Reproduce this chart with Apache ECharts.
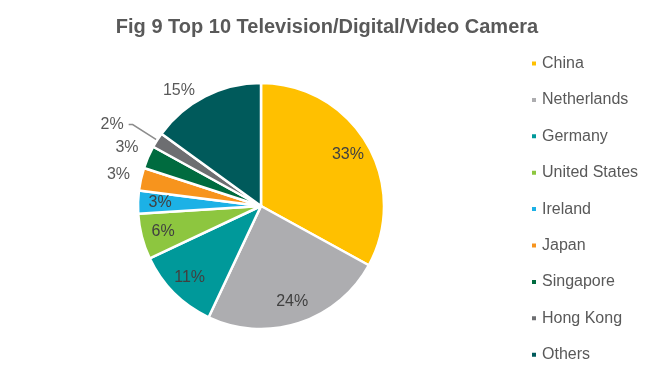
<!DOCTYPE html>
<html><head><meta charset="utf-8">
<script src="https://cdn.jsdelivr.net/npm/echarts@6/dist/echarts.min.js"></script>
<style>html,body{margin:0;padding:0;background:#fff}#c{width:656px;height:371px}</style>
</head><body><div id="c"></div>
<script>
var categories = ['China','Netherlands','Germany','United States','Ireland','Japan','Singapore','Hong Kong','Others'];
var values = [33,24,11,6,3,3,3,2,15];
var colors = ['#FFC000','#ADADB0','#00999A','#8DC63F','#1CB1E6','#F7941D','#006B3F','#6D6E71','#005A5B'];
// label placement group per category: 'in' = inner ring, 'out' = outer ring, 'line' = leader line, 'side' = beside slice
var labelMode = ['in','in','in','in','in','out','out','line','side'];

var FONT = 'Liberation Sans, Arial, sans-serif';
var CX = 261, CY = 206, R = 123;

function makeData(mode){
  return categories.map(function(c,i){
    var on = labelMode[i]===mode;
    var d = {name:c, value:values[i], label:{show:on}, labelLine:{show:on}};
    if (mode==='line' && labelMode[i]==='side') {
      d.label = {show:true};
      d.labelLine = {show:false, length:7, length2:2};
    }
    return d;
  });
}
var labelFmt = function(p){ return p.value + '%'; };
var chart = echarts.init(document.getElementById('c'));
chart.setOption({
  animation:false,
  color: colors,
  title:{text:'Fig 9 Top 10 Television/Digital/Video Camera', left:322, textAlign:'center', top:12,
    textStyle:{fontFamily:FONT, fontSize:20, fontWeight:'bold', color:'#595959'}},
  legend:{orient:'vertical', left:530, top:55.5, height:330, padding:0, icon:'rect', itemWidth:6, itemHeight:6, itemGap:20.4,
    textStyle:{fontFamily:FONT, fontSize:16, color:'#595959', lineHeight:16},
    data:categories},
  series:[
    {type:'pie', center:[CX,CY], radius:[0,R], startAngle:90, clockwise:true,
     itemStyle:{borderColor:'#fff', borderWidth:2.5}, emphasis:{disabled:true},
     label:{position:'outside', formatter:labelFmt, fontFamily:FONT, fontSize:16, color:'#595959'},
     labelLine:{length:29, length2:4, smooth:false, lineStyle:{color:'#8c8c8c', width:1.5}},
     data: makeData('line')},
    {type:'pie', center:[CX,CY], radius:[76,120], startAngle:90, silent:true, legendHoverLink:false,
     itemStyle:{color:'rgba(0,0,0,0)'}, emphasis:{disabled:true},
     label:{position:'inside', formatter:labelFmt, fontFamily:FONT, fontSize:16, color:'#404040'},
     labelLine:{show:false}, data: makeData('in')},
    {type:'pie', center:[CX,CY], radius:[133,153], startAngle:90, silent:true, legendHoverLink:false,
     itemStyle:{color:'rgba(0,0,0,0)'}, emphasis:{disabled:true},
     label:{position:'inside', formatter:labelFmt, fontFamily:FONT, fontSize:16, color:'#595959'},
     labelLine:{show:false}, data: makeData('out')}
  ]
});
</script></body></html>
